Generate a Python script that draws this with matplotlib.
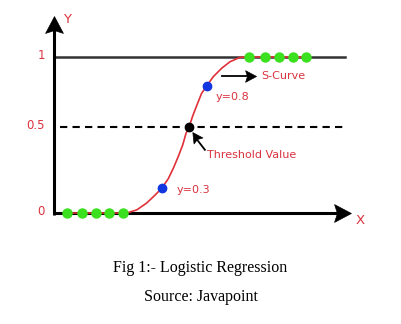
import matplotlib.pyplot as plt
from matplotlib.path import Path
from matplotlib.markers import MarkerStyle

# points (x in arbitrary units, y = probability)
curve_x = [0.43, 2.42, 2.76, 3.09, 3.37, 3.59, 3.81, 3.98, 4.14, 4.29, 4.4, 4.5,
           4.62, 4.76, 4.92, 5.09, 5.31, 5.59, 5.87, 6.2, 6.48, 8.4]
curve_y = [0.0, 0.0, 0.02, 0.064, 0.115, 0.158, 0.22, 0.288, 0.361, 0.436, 0.51, 0.55,
           0.62, 0.69, 0.767, 0.814, 0.874, 0.928, 0.97, 0.998, 1.0, 1.0]

low_x = [0.43, 0.93, 1.4, 1.83, 2.3]
high_x = [6.5, 7.03, 7.5, 7.97, 8.4]
blue_x = [3.59, 5.09]
blue_y = [0.158, 0.814]
threshold = (4.5, 0.55)

tick_vals = [0.0, 0.55, 1.0]
tick_labels = ["0", "0.5", "1"]

red = "#d9333f"

# arrow head shape (tip pointing up, notch at origin)
head = Path([(0, 1), (0.64, -0.21), (0, 0), (-0.64, -0.21), (0, 1)],
            [Path.MOVETO, Path.LINETO, Path.LINETO, Path.LINETO, Path.CLOSEPOLY])


def arrow_head(ax, x, y, angle, size):
    ax.plot([x], [y], marker=MarkerStyle(head).rotated(deg=angle), ms=size,
            color="black", mec="black", mew=0.5, zorder=4)


fig = plt.figure(figsize=(4.01, 3.24), dpi=100)
ax = fig.add_axes([0, 0, 1, 1])
ax.set_xlim(-1.8, 11.567)
ax.set_ylim(-0.7115, 1.3654)
ax.axis("off")

# axes with arrows
ax.plot([0, 0], [-0.01, 1.18], color="black", lw=2.2, solid_capstyle="butt", zorder=3)
ax.plot([-0.035, 9.45], [0, 0], color="black", lw=2.2, solid_capstyle="butt", zorder=1)
arrow_head(ax, 0, 1.173, 0, 20)
arrow_head(ax, 9.43, 0, -90, 20)
ax.text(0.3, 1.24, "Y", color=red, fontsize=9.5, ha="left", va="center")
ax.text(10.05, -0.045, "X", color=red, fontsize=9.5, ha="left", va="center")

for v, lab in zip(tick_vals, tick_labels):
    ax.text(-0.3, v + 0.01, lab, color=red, fontsize=8.5, ha="right", va="center")

# y=1 line and threshold line
ax.plot([0, 9.7], [1, 1], color="#333333", lw=1.8, zorder=1)
ax.plot([0.2, 9.63], [threshold[1]] * 2, color="black", lw=1.5,
        linestyle=(0, (3.5, 2.5)), zorder=1)

# sigmoid curve
ax.plot(curve_x, curve_y, color="#e0303a", lw=1.2, zorder=2)

ax.plot(low_x, [0] * len(low_x), "o", color="#3be01e", ms=6.5, zorder=3)
ax.plot(high_x, [1] * len(high_x), "o", color="#3be01e", ms=6.5, zorder=3)
ax.plot(blue_x, blue_y, "o", color="#1236e0", ms=6, zorder=3)
ax.plot([threshold[0]], [threshold[1]], "o", color="black", ms=6, zorder=3)

# annotations
ax.plot([5.6, 6.45], [0.878, 0.878], color="black", lw=1.3, zorder=3)
arrow_head(ax, 6.43, 0.878, -90, 13)
ax.text(6.9, 0.878, "S-Curve", color=red, fontsize=8, ha="left", va="center")
ax.text(5.4, 0.744, "y=0.8", color=red, fontsize=8, ha="left", va="center")
ax.text(4.1, 0.147, "y=0.3", color=red, fontsize=8, ha="left", va="center")
ax.plot([5.03, 4.75], [0.405, 0.475], color="black", lw=1.3, zorder=3)
arrow_head(ax, 4.76, 0.472, 34, 12)
ax.text(5.1, 0.37, "Threshold Value", color=red, fontsize=8, ha="left", va="center")

fig.text(0.5, 1 - 268 / 324, "Fig 1:- Logistic Regression", family="Liberation Serif",
         fontsize=11.5, ha="center", va="center")
fig.text(0.5, 1 - 297 / 324, "Source: Javapoint", family="Liberation Serif",
         fontsize=11.5, ha="center", va="center")

fig.savefig("out.png", dpi=100)
